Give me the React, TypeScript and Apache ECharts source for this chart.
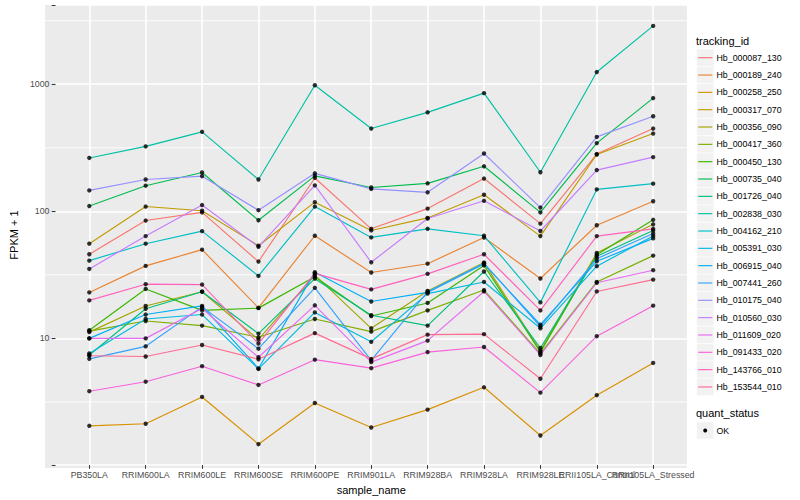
import React, { useEffect, useRef } from "react";
import * as echarts from "echarts";

// ---------- data ----------
const categories = [
  "PB350LA",
  "RRIM600LA",
  "RRIM600LE",
  "RRIM600SE",
  "RRIM600PE",
  "RRIM901LA",
  "RRIM928BA",
  "RRIM928LA",
  "RRIM928LE",
  "RRII105LA_Control",
  "RRII105LA_Stressed",
];

const trackingIds = [
  "Hb_000087_130",
  "Hb_000189_240",
  "Hb_000258_250",
  "Hb_000317_070",
  "Hb_000356_090",
  "Hb_000417_360",
  "Hb_000450_130",
  "Hb_000735_040",
  "Hb_001726_040",
  "Hb_002838_030",
  "Hb_004162_210",
  "Hb_005391_030",
  "Hb_006915_040",
  "Hb_007441_260",
  "Hb_010175_040",
  "Hb_010560_030",
  "Hb_011609_020",
  "Hb_091433_020",
  "Hb_143766_010",
  "Hb_153544_010",
];

// FPKM + 1 per sample, in category order
const hb_000087_130 = [45.9, 84.6, 98, 40.2, 183, 72.8, 105, 181, 80, 282, 448];
const hb_000189_240 = [23.0, 37.2, 49.9, 17.4, 64.2, 33.0, 38.7, 62.2, 29.6, 77.7, 120];
const hb_000258_250 = [2.05, 2.13, 3.46, 1.47, 3.1, 1.99, 2.75, 4.12, 1.72, 3.57, 6.41];
const hb_000317_070 = [55.6, 109, 101, 53.6, 118, 70.7, 88.7, 135, 63.8, 280, 409];
const hb_000356_090 = [11.2, 18.0, 23.3, 9.8, 31.5, 12.0, 23.6, 39.5, 8.0, 47, 79];
const hb_000417_360 = [11.4, 13.7, 12.6, 10.2, 14.2, 11.3, 16.6, 24.0, 7.6, 27.8, 44.8];
const hb_000450_130 = [11.6, 24.5, 16.6, 17.3, 30.5, 15.0, 19.0, 37.5, 7.8, 45.6, 85.7];
const hb_000735_040 = [110, 159, 202, 85, 190, 154, 166, 226, 98, 344, 778];
const hb_001726_040 = [7.4, 17.1, 23.3, 10.9, 29.5, 15.2, 12.6, 33.6, 8.4, 44.3, 70.7];
const hb_002838_030 = [263, 324, 422, 178, 982, 448, 601, 851, 203, 1247, 2877];
const hb_004162_210 = [40.9, 55.6, 69.8, 31.0, 109, 62.3, 72.8, 64.2, 19.2, 148.6, 165];
const hb_005391_030 = [7.6, 14.2, 15.4, 5.75, 16.0, 9.4, 22.5, 27.8, 12.0, 37, 64];
const hb_006915_040 = [10.0, 15.4, 18.0, 5.8, 33.2, 19.5, 23.0, 38.5, 12.8, 40.4, 61.2];
const hb_007441_260 = [6.9, 8.66, 17.7, 8.3, 25.0, 6.7, 23.3, 39.0, 12.4, 42.4, 66.9];
const hb_010175_040 = [146, 178, 189, 102, 199, 150, 141, 285, 107, 385, 560];
const hb_010560_030 = [35.2, 63.8, 112, 52.5, 160, 39.7, 87.8, 121, 70, 211, 267];
const hb_011609_020 = [10.0, 10.0, 17.2, 7.1, 18.2, 6.5, 9.6, 23.4, 7.4, 27.4, 34.4];
const hb_091433_020 = [3.84, 4.56, 6.04, 4.3, 6.8, 5.83, 7.8, 8.55, 3.74, 10.4, 18.1];
const hb_143766_010 = [19.9, 26.7, 26.5, 9.1, 32.5, 24.3, 32.2, 45.9, 16.6, 63.8, 72.8];
const hb_153544_010 = [7.3, 7.2, 8.87, 6.85, 11.0, 6.9, 10.7, 10.8, 4.81, 23.4, 29.0];

const seriesValues = [
  hb_000087_130,
  hb_000189_240,
  hb_000258_250,
  hb_000317_070,
  hb_000356_090,
  hb_000417_360,
  hb_000450_130,
  hb_000735_040,
  hb_001726_040,
  hb_002838_030,
  hb_004162_210,
  hb_005391_030,
  hb_006915_040,
  hb_007441_260,
  hb_010175_040,
  hb_010560_030,
  hb_011609_020,
  hb_091433_020,
  hb_143766_010,
  hb_153544_010,
];

const quantStatus = ["OK"];
// minor grid breaks, half a decade between the major breaks (10, 100, 1000)
const minorBreaks = [3.1623, 31.623, 316.23, 3162.3];

// ---------- style ----------
const palette = [
  "#F8766D", "#EA8331", "#D89000", "#C09B00", "#A3A500",
  "#7CAE00", "#39B600", "#00BB4E", "#00BF7D", "#00C1A3",
  "#00BFC4", "#00BAE0", "#00B0F6", "#35A2FF", "#9590FF",
  "#C77CFF", "#E76BF3", "#FA62DB", "#FF62BC", "#FF6C91",
];

const FONT = "'Liberation Sans', Arial, Helvetica, sans-serif";

const GRID = { left: 45, right: 113, top: 5, bottom: 32 };
const W = 800;
const H = 500;

export default function App() {
  const ref = useRef<HTMLDivElement>(null);

  useEffect(() => {
    document.body.style.margin = "0";
    if (!ref.current) return;
    const chart = echarts.init(ref.current, null, { renderer: "svg" });

    const allValues = seriesValues.flat();
    const lo = Math.log10(Math.min(...allValues));
    const hi = Math.log10(Math.max(...allValues));
    const pad = (hi - lo) * 0.05;
    const yMin = Math.pow(10, lo - pad);
    const yMax = Math.pow(10, hi + pad);
    const xMin = -0.6;
    const xMax = categories.length - 1 + 0.6;
    const xIdx = categories.map((_, i) => i);
    const crowdedIdx = [9]; // label that overlaps its neighbour, drawn on a twin axis
    const mainIdx = xIdx.filter((i) => !crowdedIdx.includes(i));

    const panelX = GRID.left;
    const panelY = GRID.top;
    const panelW = W - GRID.left - GRID.right;
    const panelH = H - GRID.top - GRID.bottom;

    const lineSeries = trackingIds.map((id, k) => ({
      type: "line",
      name: id,
      data: seriesValues[k].map((v, i) => [i, v]),
      showSymbol: false,
      symbol: "none",
      silent: true,
      z: 2,
      lineStyle: { color: palette[k], width: 1.15 },
      itemStyle: { color: palette[k] },
      emphasis: { disabled: true },
    }));

    const points: number[][] = [];
    seriesValues.forEach((vals) => vals.forEach((v, i) => points.push([i, v])));

    // legend and panel background (graphic)
    const graphics: any[] = [];
    graphics.push({
      type: "rect",
      id: "panel-bg",
      z: -20,
      silent: true,
      shape: { x: panelX, y: panelY, width: panelW, height: panelH },
      style: { fill: "#EBEBEB" },
    });
    graphics.push({
      type: "text",
      x: 696,
      y: 40.5,
      style: { text: "tracking_id", fontSize: 11, fontFamily: FONT, fill: "#000", verticalAlign: "middle" },
    });
    const keySize = 17.28;
    trackingIds.forEach((id, k) => {
      const cy = 57.7 + 17.33 * k;
      graphics.push({
        type: "rect",
        shape: { x: 696.6, y: cy - keySize / 2, width: keySize, height: keySize },
        style: { fill: "#F2F2F2", stroke: "#FFFFFF", lineWidth: 0.6 },
      });
      graphics.push({
        type: "line",
        shape: { x1: 698.2, y1: cy, x2: 712.3, y2: cy },
        style: { stroke: palette[k], lineWidth: 1.15 },
      });
      graphics.push({
        type: "text",
        x: 716.5,
        y: cy,
        style: { text: id, fontSize: 8.8, fontFamily: FONT, fill: "#000", verticalAlign: "middle" },
      });
    });
    graphics.push({
      type: "text",
      x: 696,
      y: 413.3,
      style: { text: "quant_status", fontSize: 11, fontFamily: FONT, fill: "#000", verticalAlign: "middle" },
    });
    quantStatus.forEach((s, k) => {
      const cy = 430.5 + 17.33 * k;
      graphics.push({
        type: "rect",
        shape: { x: 696.6, y: cy - keySize / 2, width: keySize, height: keySize },
        style: { fill: "#F2F2F2", stroke: "#FFFFFF", lineWidth: 0.6 },
      });
      graphics.push({
        type: "circle",
        shape: { cx: 705.2, cy, r: 2 },
        style: { fill: "#000" },
      });
      graphics.push({
        type: "text",
        x: 716.5,
        y: cy,
        style: { text: s, fontSize: 8.8, fontFamily: FONT, fill: "#000", verticalAlign: "middle" },
      });
    });

    const labelStyle = {
      color: "#4D4D4D",
      fontSize: 8.8,
      fontFamily: FONT,
    };
    const catFormatter = (v: number) =>
      Number.isInteger(v) && categories[v] ? categories[v] : "";
    const decadeFormatter = (v: number) => {
      const l = Math.log10(v);
      return Math.abs(l - Math.round(l)) < 1e-6 ? String(Math.round(v)) : "";
    };

    const option: any = {
      animation: false,
      backgroundColor: "#FFFFFF",
      textStyle: { fontFamily: FONT },
      grid: {
        ...GRID,
        show: false,
      },
      xAxis: [
        {
          type: "value",
          min: xMin,
          max: xMax,
          minInterval: 1,
          maxInterval: 1,
          position: "bottom",
          axisLine: { show: false, onZero: false },
          axisTick: {
            show: true,
            customValues: xIdx,
            length: 3.7,
            lineStyle: { color: "#333333", width: 1 },
          },
          axisLabel: {
            ...labelStyle,
            customValues: mainIdx,
            showMinLabel: true,
            showMaxLabel: true,
            hideOverlap: false,
            formatter: catFormatter,
            margin: 5,
          },
          splitLine: { show: true, lineStyle: { color: "#FFFFFF", width: 1.6 } },
          name: "sample_name",
          nameLocation: "middle",
          nameGap: 15,
          nameTextStyle: { color: "#000", fontSize: 11, fontFamily: FONT },
        },
        {
          type: "value",
          min: xMin,
          max: xMax,
          minInterval: 1,
          maxInterval: 1,
          position: "bottom",
          offset: 0,
          axisLine: { show: false, onZero: false },
          axisTick: { show: false, customValues: crowdedIdx },
          axisLabel: {
            ...labelStyle,
            customValues: crowdedIdx,
            showMinLabel: true,
            showMaxLabel: true,
            hideOverlap: false,
            formatter: catFormatter,
            margin: 5,
          },
          splitLine: { show: false },
        },
      ],
      yAxis: {
        type: "log",
        logBase: 10,
        min: yMin,
        max: yMax,
        position: "left",
        axisLine: { show: false, onZero: false },
        axisTick: { show: true, length: 3.7, lineStyle: { color: "#333333", width: 1 } },
        axisLabel: {
          ...labelStyle,
          margin: 6,
          formatter: decadeFormatter,
        },
        splitLine: { show: true, lineStyle: { color: "#FFFFFF", width: 1.6 } },
        name: "FPKM + 1",
        nameLocation: "middle",
        nameGap: 27,
        nameTextStyle: { color: "#000", fontSize: 11, fontFamily: FONT },
      },
      series: [
        ...lineSeries,
        {
          type: "scatter",
          name: "points",
          data: points,
          symbol: "circle",
          symbolSize: 4.4,
          silent: true,
          z: 3,
          itemStyle: { color: "#000000" },
          emphasis: { disabled: true },
        },
      ],
      graphic: graphics,
    };

    chart.setOption(option);

    // minor grid lines: positions taken from the chart's own log y scale
    const minorLines = minorBreaks
      .map((v, j) => {
        const py = chart.convertToPixel({ yAxisIndex: 0 }, v) as number;
        if (typeof py !== "number" || !isFinite(py)) return null;
        return {
          type: "line",
          id: "minor-" + j,
          z: -10,
          silent: true,
          shape: { x1: panelX, y1: py, x2: panelX + panelW, y2: py },
          style: { stroke: "#FFFFFF", lineWidth: 0.9 },
        };
      })
      .filter(Boolean);
    chart.setOption({ graphic: [...graphics, ...minorLines] });

    return () => chart.dispose();
  }, []);

  return <div ref={ref} style={{ width: W, height: H }} />;
}
